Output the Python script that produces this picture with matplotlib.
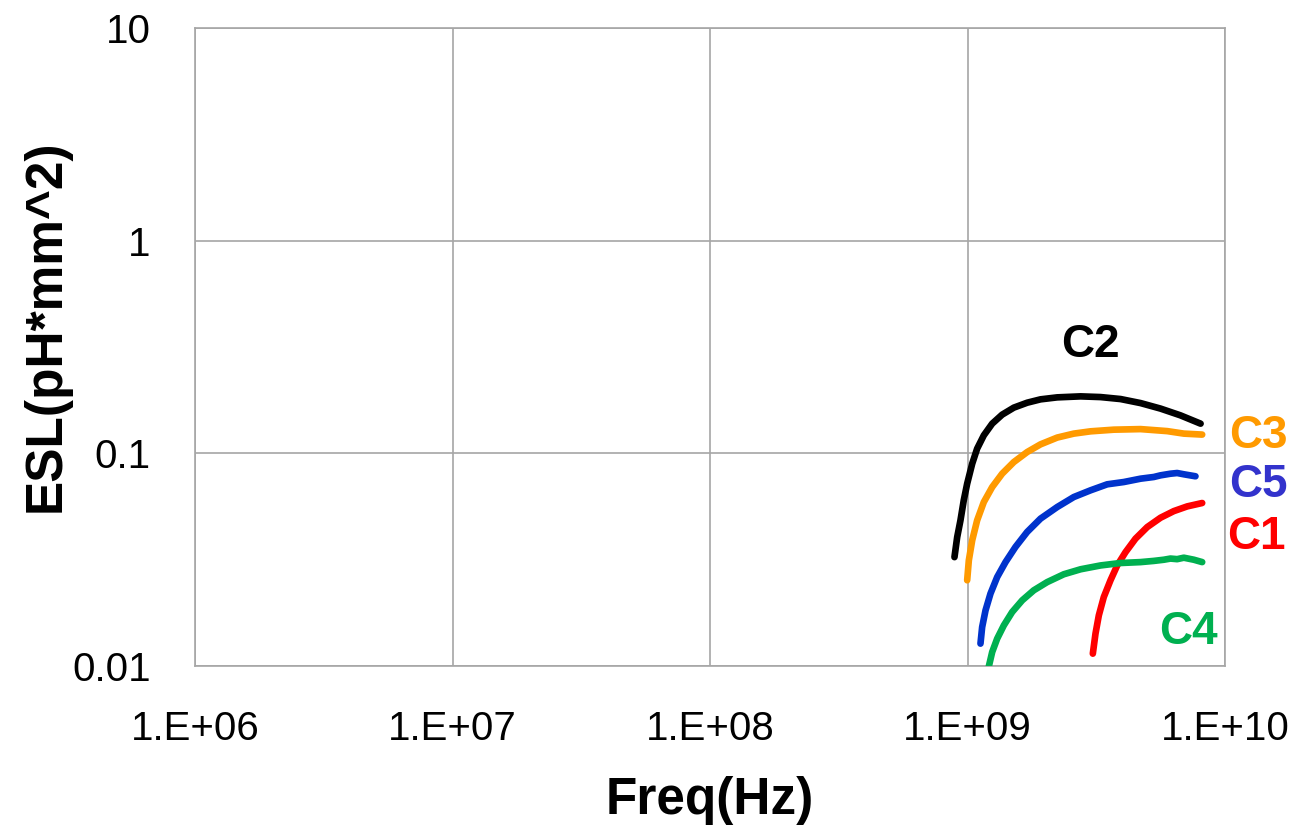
import matplotlib
matplotlib.use("Agg")
import matplotlib.pyplot as plt
from matplotlib.ticker import FixedLocator, NullLocator

plt.rcParams['font.family'] = ['Liberation Sans', 'DejaVu Sans']

# curves (freq in Hz, ESL in pH*mm^2)
c2_f = [8.90e8, 9.12e8, 9.39e8, 9.67e8, 9.97e8, 1.043e9, 1.090e9, 1.157e9, 1.247e9, 1.363e9,
        1.513e9, 1.705e9, 1.921e9, 2.23e9, 2.75e9, 3.285e9, 3.93e9, 4.70e9, 5.62e9, 6.71e9, 8.04e9]
c2_y = [0.0325, 0.0404, 0.0484, 0.0601, 0.0720, 0.0894, 0.1052, 0.1215, 0.1379, 0.152,
        0.164, 0.173, 0.1794, 0.1833, 0.1853, 0.1839, 0.180, 0.1723, 0.1623, 0.1509, 0.1379]

c3_f = [9.97e8, 1.012e9, 1.043e9, 1.090e9, 1.157e9, 1.247e9, 1.363e9, 1.513e9, 1.705e9,
        1.921e9, 2.23e9, 2.587e9, 3.005e9, 3.70e9, 4.70e9, 5.965e9, 6.92e9, 8.155e9]
c3_y = [0.0253, 0.0314, 0.0390, 0.0484, 0.0590, 0.0694, 0.0802, 0.0910, 0.1014,
        0.1102, 0.1186, 0.1238, 0.1269, 0.1292, 0.130, 0.1272, 0.1238, 0.1225]

c5_f = [1.123e9, 1.14e9, 1.175e9, 1.228e9, 1.304e9, 1.405e9, 1.536e9, 1.705e9, 1.921e9,
        2.23e9, 2.587e9, 3.005e9, 3.487e9, 4.046e9, 4.70e9, 5.29e9, 5.62e9, 6.14e9,
        6.52e9, 6.92e9, 7.68e9]
c5_y = [0.01274, 0.01524, 0.01827, 0.02189, 0.0262, 0.0308, 0.0363, 0.0427, 0.0493,
        0.0559, 0.0623, 0.0670, 0.0715, 0.0733, 0.0760, 0.0774, 0.0788, 0.0802,
        0.0808, 0.0797, 0.078]

c1_f = [3.067e9, 3.141e9, 3.236e9, 3.383e9, 3.592e9, 3.814e9, 4.108e9, 4.492e9, 4.988e9,
        5.62e9, 6.327e9, 7.134e9, 8.155e9]
c1_y = [0.01143, 0.0142, 0.0173, 0.0211, 0.0253, 0.0297, 0.0343, 0.0397, 0.0450,
        0.0498, 0.0535, 0.0563, 0.0584]

c4_f = [1.21e9, 1.247e9, 1.304e9, 1.384e9, 1.491e9, 1.631e9, 1.809e9, 2.039e9, 2.366e9,
        2.75e9, 3.285e9, 3.93e9, 4.70e9, 5.29e9, 5.787e9, 6.14e9, 6.52e9, 6.92e9,
        7.57e9, 8.155e9]
c4_y = [0.00995, 0.01163, 0.01345, 0.01553, 0.01794, 0.02036, 0.0227, 0.0248, 0.0270,
        0.0285, 0.0297, 0.0305, 0.0308, 0.0312, 0.0316, 0.0320, 0.0318, 0.0323,
        0.0316, 0.0308]

series = [
    ("C2", c2_f, c2_y, "#000000", "#000000", (3.0e9, 0.322)),
    ("C3", c3_f, c3_y, "#FF9A00", "#FF9A00", (1.35e10, 0.12)),
    ("C5", c5_f, c5_y, "#0033CC", "#3333CC", (1.35e10, 0.0708)),
    ("C1", c1_f, c1_y, "#FF0000", "#FF0000", (1.32e10, 0.0403)),
    ("C4", c4_f, c4_y, "#00B050", "#00B050", (7.2e9, 0.0144)),
]

x_ticks = [1e6, 1e7, 1e8, 1e9, 1e10]
x_labels = ["1.E+06", "1.E+07", "1.E+08", "1.E+09", "1.E+10"]
y_ticks = [0.01, 0.1, 1, 10]
y_labels = ["0.01", "0.1", "1", "10"]

fig = plt.figure(figsize=(12.97, 8.4), dpi=100)
ax = fig.add_axes([195 / 1297, 174 / 840, 1030 / 1297, 638 / 840])

for name, f, y, col, lcol, pos in series:
    ax.plot(f, y, color=col, lw=4.8, solid_capstyle='round', solid_joinstyle='round', zorder=3)
    ax.text(pos[0], pos[1], name, color=lcol, fontsize=33, fontweight='bold',
            ha='center', va='center', clip_on=False)

ax.set_xscale('log')
ax.set_yscale('log')
ax.set_xlim(1e6, 1e10)
ax.set_ylim(0.01, 10)

ax.xaxis.set_major_locator(FixedLocator(x_ticks))
ax.yaxis.set_major_locator(FixedLocator(y_ticks))
ax.xaxis.set_minor_locator(NullLocator())
ax.yaxis.set_minor_locator(NullLocator())
ax.set_xticklabels(x_labels)
ax.set_yticklabels(y_labels)
ax.tick_params(length=0, labelsize=29, pad=32, colors='black')

ax.grid(True, color='#A6A6A6', lw=1.2)
for s in ax.spines.values():
    s.set_color('#A6A6A6')
    s.set_linewidth(1.2)

ax.set_xlabel("Freq(Hz)", fontsize=37, fontweight='bold', labelpad=20)
ax.set_ylabel("ESL(pH*mm^2)", fontsize=37, fontweight='bold')
ax.yaxis.set_label_coords(-0.121, 0.534)

fig.savefig("out.png", dpi=100, facecolor='white')
